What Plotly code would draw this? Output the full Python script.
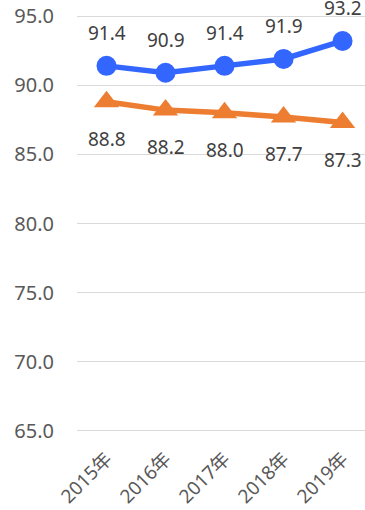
import plotly.graph_objects as go

years = ["2015年", "2016年", "2017年", "2018年", "2019年"]
blue_vals = [91.4, 90.9, 91.4, 91.9, 93.2]
orange_vals = [88.8, 88.2, 88.0, 87.7, 87.3]
y_ticks = [65, 70, 75, 80, 85, 90, 95]

FONT = "Noto Sans, Noto Sans CJK SC, sans-serif"
BLUE = "#3366FF"
ORANGE = "#ED7D31"

fig = go.Figure()

fig.add_trace(go.Scatter(
    x=years, y=blue_vals, mode="lines+markers",
    line=dict(color=BLUE, width=5.5),
    marker=dict(color=BLUE, size=20, symbol="circle"),
    cliponaxis=False, showlegend=False
))
fig.add_trace(go.Scatter(
    x=years, y=orange_vals, mode="lines+markers",
    line=dict(color=ORANGE, width=5.5),
    marker=dict(color=ORANGE, size=22, symbol="triangle-up"),
    cliponaxis=False, showlegend=False
))

# data labels: blue above, orange below
for x, v in zip(years, blue_vals):
    fig.add_annotation(x=x, y=v, text=f"{v:.1f}", showarrow=False, yshift=33,
                       font=dict(family=FONT, size=19, color="#404040"))
for x, v in zip(years, orange_vals):
    fig.add_annotation(x=x, y=v, text=f"{v:.1f}", showarrow=False, yshift=-37,
                       font=dict(family=FONT, size=19, color="#404040"))

fig.update_layout(
    width=365, height=510,
    margin=dict(l=77, r=0, t=14, b=77, autoexpand=False),
    plot_bgcolor="white", paper_bgcolor="white",
    xaxis=dict(
        range=[-0.5, 4.38], showgrid=False, showline=False, ticks="",
        automargin=False, ticklabelstandoff=10,
        tickangle=-45, tickfont=dict(family=FONT, size=19, color="#595959"),
    ),
    # range padded a little so the 65 / 95 gridlines are not dropped at the edges
    yaxis=dict(
        range=[64.85, 95.15], tickvals=y_ticks, ticktext=[f"{t:.1f}" for t in y_ticks],
        showgrid=True, gridcolor="#D9D9D9", gridwidth=1, zeroline=False,
        showline=False, ticks="", ticklabelstandoff=22, automargin=False,
        ticklabeloverflow="allow",
        tickfont=dict(family=FONT, size=20, color="#595959"),
    ),
)

fig.write_html(
    "out.html",
    config={"displayModeBar": False},
    post_script="document.body.style.margin='0';document.body.style.overflow='hidden';",
)
